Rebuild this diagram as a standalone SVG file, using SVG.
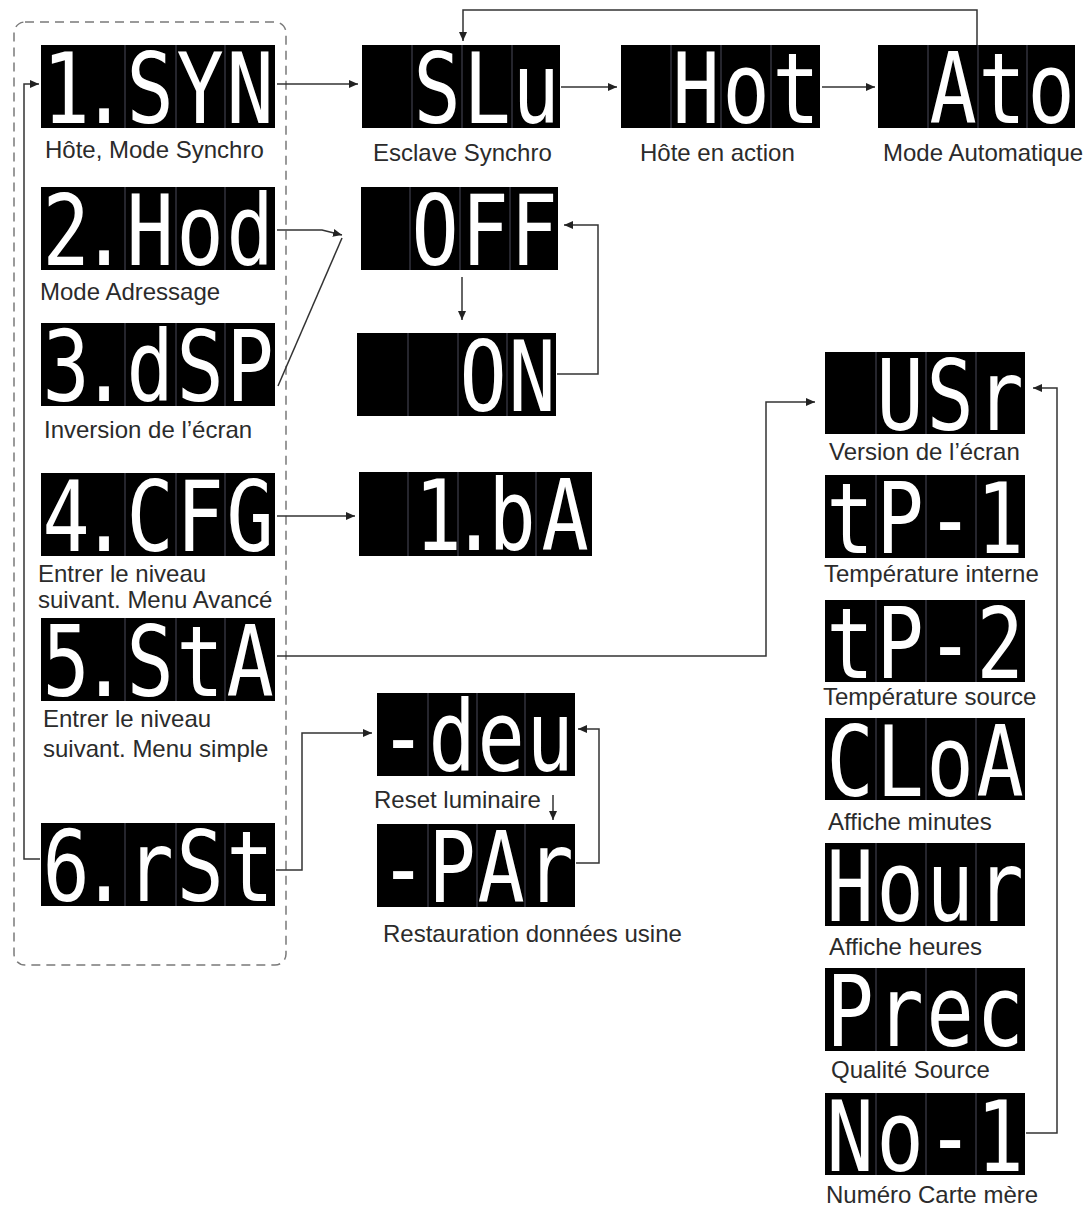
<svg xmlns="http://www.w3.org/2000/svg" width="1092" height="1209" viewBox="0 0 1092 1209">
<style>
.bg{fill:#fff}
.disp{fill:#000}
.div{stroke:#4a4a5a;stroke-width:1}
.seg{font-family:"DejaVu Sans Mono","Liberation Mono",monospace;font-size:98px;fill:#fff;text-anchor:middle}
.lbl{font-family:"Liberation Sans",Arial,sans-serif;font-size:24px;fill:#2b2b2b}
.con{fill:none;stroke:#333;stroke-width:1.5}
.frame{fill:none;stroke:#7a7a7a;stroke-width:1.5;stroke-dasharray:9 6}
</style>
<defs>
<marker id="ah" markerUnits="userSpaceOnUse" markerWidth="10" markerHeight="10" refX="9" refY="5" orient="auto">
<path d="M0,1 L9,5 L0,9 Z" fill="#222"/>
</marker>
</defs>
<rect class="bg" x="0" y="0" width="1092" height="1209"/>
<rect id="menu-frame" class="frame" x="14" y="22" width="272" height="943" rx="11"/>

<g id="connectors">
<path class="con" d="M277,84 H358" marker-end="url(#ah)"/>
<path class="con" d="M561,87 H617" marker-end="url(#ah)"/>
<path class="con" d="M822,87 H875" marker-end="url(#ah)"/>
<path class="con" d="M977,45 V10 H463 V41" marker-end="url(#ah)"/>
<path class="con" d="M277,230 H322 L342,235" marker-end="url(#ah)"/>
<path class="con" d="M278,386 L342,238"/>
<path class="con" d="M462,277 V320" marker-end="url(#ah)"/>
<path class="con" d="M557,374 H598 V225 H564" marker-end="url(#ah)"/>
<path class="con" d="M277,516 H355" marker-end="url(#ah)"/>
<path class="con" d="M277,656 H766 V402 H815" marker-end="url(#ah)"/>
<path class="con" d="M276,870 H302 V733 H372" marker-end="url(#ah)"/>
<path class="con" d="M553,795 V820" marker-end="url(#ah)"/>
<path class="con" d="M576,863 H599 V729 H578" marker-end="url(#ah)"/>
<path class="con" d="M1026,1133 H1057 V388 H1033" marker-end="url(#ah)"/>
<path class="con" d="M40,859 H24 V84 H39" marker-end="url(#ah)"/>
</g>

<g id="n-1syn">
<rect class="disp" x="41" y="45" width="234" height="83"/>
<path class="div" d="M125,45V128M176,45V128M225,45V128"/>
<text class="seg" transform="translate(41,123) scale(0.8,1)" x="31.25 78.75 136.25 198.75 261.25" y="0">1.SYN</text>
<text class="lbl" x="45" y="158">Hôte, Mode Synchro</text>
</g>
<g id="n-2hod">
<rect class="disp" x="41" y="187" width="234" height="83"/>
<path class="div" d="M125,187V270M176,187V270M225,187V270"/>
<text class="seg" transform="translate(41,265) scale(0.8,1)" x="31.25 78.75 136.25 198.75 261.25" y="0">2.Hod</text>
<text class="lbl" x="40" y="300">Mode Adressage</text>
</g>
<g id="n-3dsp">
<rect class="disp" x="41" y="323" width="234" height="83"/>
<path class="div" d="M125,323V406M176,323V406M225,323V406"/>
<text class="seg" transform="translate(41,401) scale(0.8,1)" x="31.25 78.75 136.25 198.75 261.25" y="0">3.dSP</text>
<text class="lbl" x="44" y="438">Inversion de l’écran</text>
</g>
<g id="n-4cfg">
<rect class="disp" x="41" y="473" width="234" height="83"/>
<path class="div" d="M125,473V556M176,473V556M225,473V556"/>
<text class="seg" transform="translate(41,551) scale(0.8,1)" x="31.25 78.75 136.25 198.75 261.25" y="0">4.CFG</text>
<text class="lbl" x="38" y="582">Entrer le niveau</text>
<text class="lbl" x="38" y="608">suivant. Menu Avancé</text>
</g>
<g id="n-5sta">
<rect class="disp" x="41" y="618" width="234" height="83"/>
<path class="div" d="M125,618V701M176,618V701M225,618V701"/>
<text class="seg" transform="translate(41,696) scale(0.8,1)" x="31.25 78.75 136.25 198.75 261.25" y="0">5.StA</text>
<text class="lbl" x="43" y="727">Entrer le niveau</text>
<text class="lbl" x="43" y="757">suivant. Menu simple</text>
</g>
<g id="n-6rst">
<rect class="disp" x="41" y="823" width="234" height="83"/>
<path class="div" d="M125,823V906M176,823V906M225,823V906"/>
<text class="seg" transform="translate(41,901) scale(0.8,1)" x="31.25 78.75 136.25 198.75 261.25" y="0">6.rSt</text>
</g>

<g id="n-slu">
<rect class="disp" x="362" y="45" width="198" height="83"/>
<path class="div" d="M412,45V128M462,45V128M512,45V128"/>
<text class="seg" transform="translate(362,123) scale(0.8,1)" x="93.75 156.25 217.5" y="0">SLu</text>
<text class="lbl" x="373" y="161">Esclave Synchro</text>
</g>
<g id="n-hot">
<rect class="disp" x="621" y="45" width="199" height="83"/>
<path class="div" d="M671,45V128M721,45V128M771,45V128"/>
<text class="seg" transform="translate(621,123) scale(0.8,1)" x="93.75 156.25 218.75" y="0">Hot</text>
<text class="lbl" x="640" y="161">Hôte en action</text>
</g>
<g id="n-ato">
<rect class="disp" x="878" y="45" width="197" height="83"/>
<path class="div" d="M928,45V128M978,45V128M1027,45V128"/>
<text class="seg" transform="translate(878,123) scale(0.8,1)" x="93.75 155 216.25" y="0">Ato</text>
<text class="lbl" x="883" y="161">Mode Automatique</text>
</g>
<g id="n-off">
<rect class="disp" x="361" y="187" width="197" height="83"/>
<path class="div" d="M410,187V270M460,187V270M510,187V270"/>
<text class="seg" transform="translate(361,265) scale(0.8,1)" x="92.5 155 216.25" y="0">OFF</text>
</g>
<g id="n-on">
<rect class="disp" x="357" y="333" width="199" height="83"/>
<path class="div" d="M408,333V416M458,333V416M507,333V416"/>
<text class="seg" transform="translate(357,411) scale(0.8,1)" x="157.5 218.75" y="0">ON</text>
</g>
<g id="n-1ba">
<rect class="disp" x="359" y="472" width="233" height="84"/>
<path class="div" d="M408,472V556M458,472V556M536,472V556"/>
<text class="seg" transform="translate(359,550) scale(0.8,1)" x="98.75 143.75 191.25 257.5" y="0">1.bA</text>
</g>
<g id="n-deu">
<rect class="disp" x="377" y="693" width="198" height="83"/>
<path class="div" d="M428,693V776M477,693V776M525,693V776"/>
<text class="seg" transform="translate(377,771) scale(0.8,1)" x="32.5 93.75 155 216.25" y="0">-deu</text>
<text class="lbl" x="374" y="808">Reset luminaire</text>
</g>
<g id="n-par">
<rect class="disp" x="377" y="824" width="198" height="83"/>
<path class="div" d="M428,824V907M477,824V907M525,824V907"/>
<text class="seg" transform="translate(377,902) scale(0.8,1)" x="32.5 93.75 155 216.25" y="0">-PAr</text>
<text class="lbl" x="383" y="942">Restauration données usine</text>
</g>

<g id="n-usr">
<rect class="disp" x="825" y="352" width="200" height="82"/>
<path class="div" d="M876,352V434M926,352V434M976,352V434"/>
<text class="seg" transform="translate(825,430) scale(0.8,1)" x="93.75 156.25 218.75" y="0">USr</text>
<text class="lbl" x="829" y="460">Version de l’écran</text>
</g>
<g id="n-tp1">
<rect class="disp" x="825" y="475" width="200" height="83"/>
<path class="div" d="M876,475V558M926,475V558M976,475V558"/>
<text class="seg" transform="translate(825,553) scale(0.8,1)" x="31.25 93.75 156.25 218.75" y="0">tP-1</text>
<text class="lbl" x="824" y="582">Température interne</text>
</g>
<g id="n-tp2">
<rect class="disp" x="825" y="600" width="200" height="82"/>
<path class="div" d="M876,600V682M926,600V682M976,600V682"/>
<text class="seg" transform="translate(825,678) scale(0.8,1)" x="31.25 93.75 156.25 218.75" y="0">tP-2</text>
<text class="lbl" x="823" y="705">Température source</text>
</g>
<g id="n-cloa">
<rect class="disp" x="825" y="718" width="200" height="82"/>
<path class="div" d="M876,718V800M926,718V800M976,718V800"/>
<text class="seg" transform="translate(825,796) scale(0.8,1)" x="31.25 93.75 156.25 218.75" y="0">CLoA</text>
<text class="lbl" x="828" y="830">Affiche minutes</text>
</g>
<g id="n-hour">
<rect class="disp" x="825" y="843" width="200" height="83"/>
<path class="div" d="M876,843V926M926,843V926M976,843V926"/>
<text class="seg" transform="translate(825,921) scale(0.8,1)" x="31.25 93.75 156.25 218.75" y="0">Hour</text>
<text class="lbl" x="829" y="955">Affiche heures</text>
</g>
<g id="n-prec">
<rect class="disp" x="825" y="968" width="200" height="83"/>
<path class="div" d="M876,968V1051M926,968V1051M976,968V1051"/>
<text class="seg" transform="translate(825,1046) scale(0.8,1)" x="31.25 93.75 156.25 218.75" y="0">Prec</text>
<text class="lbl" x="831" y="1078">Qualité Source</text>
</g>
<g id="n-no1">
<rect class="disp" x="825" y="1093" width="200" height="82"/>
<path class="div" d="M876,1093V1175M926,1093V1175M976,1093V1175"/>
<text class="seg" transform="translate(825,1171) scale(0.8,1)" x="31.25 93.75 156.25 218.75" y="0">No-1</text>
<text class="lbl" x="826" y="1203">Numéro Carte mère</text>
</g>
</svg>
